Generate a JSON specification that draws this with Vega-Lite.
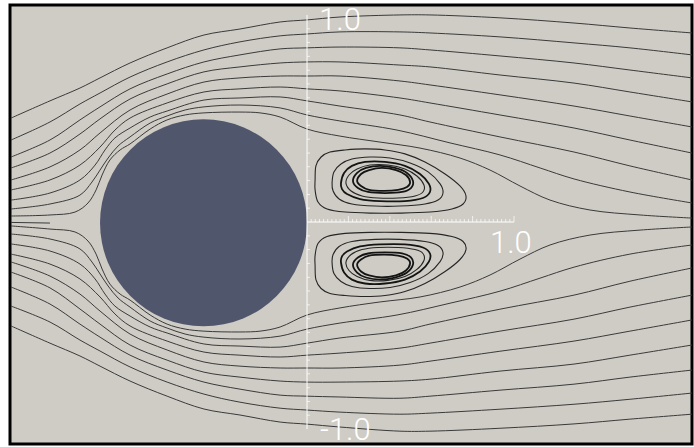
{
  "$schema": "https://vega.github.io/schema/vega-lite/v6.json",
  "width": 682,
  "height": 439,
  "autosize": "none",
  "padding": {"left": 10, "top": 5, "right": 2, "bottom": 3},
  "background": "#ffffff",
  "config": {"view": {"stroke": "#000000", "strokeWidth": 3, "fill": "#cfccc5"}},
  "datasets": {
    "streams": [
      {"s":"U1","x":-1.430,"y":0.502},{"s":"U1","x":-1.242,"y":0.585},{"s":"U1","x":-1.097,"y":0.647},{"s":"U1","x":-1.000,"y":0.696},{"s":"U1","x":-0.855,"y":0.768},{"s":"U1","x":-0.676,"y":0.841},{"s":"U1","x":-0.498,"y":0.903},{"s":"U1","x":-0.324,"y":0.932},{"s":"U1","x":-0.130,"y":0.966},{"s":"U1","x":0,"y":0.976},{"s":"U1","x":0.159,"y":0.990},{"s":"U1","x":0.449,"y":1.000},{"s":"U1","x":0.594,"y":1.000},{"s":"U1","x":0.932,"y":0.986},{"s":"U1","x":1.290,"y":0.961},{"s":"U1","x":1.560,"y":0.937},{"s":"U1","x":1.860,"y":0.913},
      {"s":"U2","x":-1.430,"y":0.396},{"s":"U2","x":-1.242,"y":0.483},{"s":"U2","x":-1.097,"y":0.570},{"s":"U2","x":-1.000,"y":0.623},{"s":"U2","x":-0.855,"y":0.700},{"s":"U2","x":-0.676,"y":0.773},{"s":"U2","x":-0.498,"y":0.831},{"s":"U2","x":-0.324,"y":0.870},{"s":"U2","x":-0.130,"y":0.899},{"s":"U2","x":0,"y":0.908},{"s":"U2","x":0.159,"y":0.918},{"s":"U2","x":0.449,"y":0.918},{"s":"U2","x":0.594,"y":0.913},{"s":"U2","x":0.932,"y":0.894},{"s":"U2","x":1.290,"y":0.865},{"s":"U2","x":1.560,"y":0.841},{"s":"U2","x":1.860,"y":0.807},
      {"s":"U3","x":-1.430,"y":0.314},{"s":"U3","x":-1.242,"y":0.396},{"s":"U3","x":-1.097,"y":0.493},{"s":"U3","x":-1.000,"y":0.556},{"s":"U3","x":-0.855,"y":0.643},{"s":"U3","x":-0.676,"y":0.715},{"s":"U3","x":-0.498,"y":0.773},{"s":"U3","x":-0.324,"y":0.807},{"s":"U3","x":-0.130,"y":0.836},{"s":"U3","x":0,"y":0.841},{"s":"U3","x":0.159,"y":0.845},{"s":"U3","x":0.449,"y":0.841},{"s":"U3","x":0.594,"y":0.831},{"s":"U3","x":0.932,"y":0.802},{"s":"U3","x":1.290,"y":0.768},{"s":"U3","x":1.560,"y":0.734},{"s":"U3","x":1.860,"y":0.696},
      {"s":"U4","x":-1.430,"y":0.261},{"s":"U4","x":-1.242,"y":0.333},{"s":"U4","x":-1.097,"y":0.425},{"s":"U4","x":-1.000,"y":0.498},{"s":"U4","x":-0.855,"y":0.594},{"s":"U4","x":-0.676,"y":0.667},{"s":"U4","x":-0.498,"y":0.725},{"s":"U4","x":-0.324,"y":0.749},{"s":"U4","x":-0.130,"y":0.768},{"s":"U4","x":0,"y":0.773},{"s":"U4","x":0.159,"y":0.773},{"s":"U4","x":0.449,"y":0.758},{"s":"U4","x":0.594,"y":0.749},{"s":"U4","x":0.932,"y":0.710},{"s":"U4","x":1.290,"y":0.671},{"s":"U4","x":1.560,"y":0.628},{"s":"U4","x":1.860,"y":0.580},
      {"s":"U5","x":-1.430,"y":0.203},{"s":"U5","x":-1.242,"y":0.266},{"s":"U5","x":-1.097,"y":0.348},{"s":"U5","x":-1.000,"y":0.430},{"s":"U5","x":-0.855,"y":0.541},{"s":"U5","x":-0.676,"y":0.618},{"s":"U5","x":-0.498,"y":0.676},{"s":"U5","x":-0.324,"y":0.696},{"s":"U5","x":-0.130,"y":0.705},{"s":"U5","x":0,"y":0.705},{"s":"U5","x":0.159,"y":0.705},{"s":"U5","x":0.449,"y":0.681},{"s":"U5","x":0.594,"y":0.662},{"s":"U5","x":0.932,"y":0.614},{"s":"U5","x":1.290,"y":0.560},{"s":"U5","x":1.560,"y":0.512},{"s":"U5","x":1.860,"y":0.459},
      {"s":"U6","x":-1.430,"y":0.155},{"s":"U6","x":-1.242,"y":0.203},{"s":"U6","x":-1.097,"y":0.275},{"s":"U6","x":-1.000,"y":0.362},{"s":"U6","x":-0.928,"y":0.444},{"s":"U6","x":-0.855,"y":0.502},{"s":"U6","x":-0.676,"y":0.575},{"s":"U6","x":-0.498,"y":0.628},{"s":"U6","x":-0.324,"y":0.643},{"s":"U6","x":-0.130,"y":0.652},{"s":"U6","x":0,"y":0.643},{"s":"U6","x":0.159,"y":0.633},{"s":"U6","x":0.449,"y":0.599},{"s":"U6","x":0.594,"y":0.575},{"s":"U6","x":0.932,"y":0.517},{"s":"U6","x":1.290,"y":0.454},{"s":"U6","x":1.560,"y":0.396},{"s":"U6","x":1.860,"y":0.333},
      {"s":"U7","x":-1.430,"y":0.106},{"s":"U7","x":-1.242,"y":0.140},{"s":"U7","x":-1.097,"y":0.203},{"s":"U7","x":-1.024,"y":0.275},{"s":"U7","x":-0.976,"y":0.348},{"s":"U7","x":-0.928,"y":0.406},{"s":"U7","x":-0.855,"y":0.454},{"s":"U7","x":-0.758,"y":0.507},{"s":"U7","x":-0.676,"y":0.536},{"s":"U7","x":-0.498,"y":0.589},{"s":"U7","x":-0.324,"y":0.599},{"s":"U7","x":-0.130,"y":0.604},{"s":"U7","x":0,"y":0.585},{"s":"U7","x":0.159,"y":0.560},{"s":"U7","x":0.449,"y":0.517},{"s":"U7","x":0.594,"y":0.483},{"s":"U7","x":0.932,"y":0.411},{"s":"U7","x":1.290,"y":0.338},{"s":"U7","x":1.560,"y":0.271},{"s":"U7","x":1.860,"y":0.203},
      {"s":"U8","x":-1.430,"y":0.063},{"s":"U8","x":-1.242,"y":0.087},{"s":"U8","x":-1.097,"y":0.130},{"s":"U8","x":-1.039,"y":0.193},{"s":"U8","x":-1.000,"y":0.251},{"s":"U8","x":-0.961,"y":0.309},{"s":"U8","x":-0.913,"y":0.367},{"s":"U8","x":-0.855,"y":0.411},{"s":"U8","x":-0.758,"y":0.478},{"s":"U8","x":-0.676,"y":0.512},{"s":"U8","x":-0.589,"y":0.541},{"s":"U8","x":-0.498,"y":0.556},{"s":"U8","x":-0.324,"y":0.565},{"s":"U8","x":-0.130,"y":0.551},{"s":"U8","x":0,"y":0.517},{"s":"U8","x":0.159,"y":0.488},{"s":"U8","x":0.435,"y":0.444},{"s":"U8","x":0.691,"y":0.382},{"s":"U8","x":0.932,"y":0.324},{"s":"U8","x":1.126,"y":0.261},{"s":"U8","x":1.290,"y":0.208},{"s":"U8","x":1.560,"y":0.145},{"s":"U8","x":1.860,"y":0.092},
      {"s":"U9","x":-1.430,"y":0.029},{"s":"U9","x":-1.242,"y":0.034},{"s":"U9","x":-1.121,"y":0.048},{"s":"U9","x":-1.058,"y":0.092},{"s":"U9","x":-1.019,"y":0.155},{"s":"U9","x":-0.990,"y":0.227},{"s":"U9","x":-0.952,"y":0.300},{"s":"U9","x":-0.903,"y":0.348},{"s":"U9","x":-0.855,"y":0.377},{"s":"U9","x":-0.758,"y":0.449},{"s":"U9","x":-0.676,"y":0.493},{"s":"U9","x":-0.589,"y":0.517},{"s":"U9","x":-0.498,"y":0.527},{"s":"U9","x":-0.324,"y":0.531},{"s":"U9","x":-0.227,"y":0.527},{"s":"U9","x":-0.130,"y":0.507},{"s":"U9","x":0,"y":0.449},{"s":"U9","x":0.159,"y":0.415},{"s":"U9","x":0.353,"y":0.386},{"s":"U9","x":0.546,"y":0.357},{"s":"U9","x":0.739,"y":0.309},{"s":"U9","x":0.884,"y":0.251},{"s":"U9","x":1.029,"y":0.174},{"s":"U9","x":1.174,"y":0.106},{"s":"U9","x":1.367,"y":0.058},{"s":"U9","x":1.609,"y":0.034},{"s":"U9","x":1.860,"y":0.019},
      {"s":"C","x":-1.430,"y":-0.002},{"s":"C","x":-1.242,"y":-0.005},
      {"s":"D9","x":-1.430,"y":-0.019},{"s":"D9","x":-1.242,"y":-0.034},{"s":"D9","x":-1.121,"y":-0.048},{"s":"D9","x":-1.058,"y":-0.092},{"s":"D9","x":-1.019,"y":-0.155},{"s":"D9","x":-0.990,"y":-0.227},{"s":"D9","x":-0.952,"y":-0.300},{"s":"D9","x":-0.903,"y":-0.348},{"s":"D9","x":-0.855,"y":-0.377},{"s":"D9","x":-0.758,"y":-0.449},{"s":"D9","x":-0.676,"y":-0.493},{"s":"D9","x":-0.589,"y":-0.517},{"s":"D9","x":-0.498,"y":-0.527},{"s":"D9","x":-0.324,"y":-0.531},{"s":"D9","x":-0.227,"y":-0.527},{"s":"D9","x":-0.130,"y":-0.507},{"s":"D9","x":0,"y":-0.449},{"s":"D9","x":0.159,"y":-0.415},{"s":"D9","x":0.353,"y":-0.386},{"s":"D9","x":0.546,"y":-0.362},{"s":"D9","x":0.739,"y":-0.314},{"s":"D9","x":0.884,"y":-0.256},{"s":"D9","x":1.029,"y":-0.179},{"s":"D9","x":1.174,"y":-0.111},{"s":"D9","x":1.367,"y":-0.063},{"s":"D9","x":1.609,"y":-0.039},{"s":"D9","x":1.860,"y":-0.024},
      {"s":"D8","x":-1.430,"y":-0.058},{"s":"D8","x":-1.242,"y":-0.082},{"s":"D8","x":-1.097,"y":-0.130},{"s":"D8","x":-1.039,"y":-0.193},{"s":"D8","x":-1.000,"y":-0.251},{"s":"D8","x":-0.961,"y":-0.309},{"s":"D8","x":-0.913,"y":-0.367},{"s":"D8","x":-0.855,"y":-0.411},{"s":"D8","x":-0.758,"y":-0.478},{"s":"D8","x":-0.676,"y":-0.512},{"s":"D8","x":-0.589,"y":-0.541},{"s":"D8","x":-0.498,"y":-0.556},{"s":"D8","x":-0.324,"y":-0.565},{"s":"D8","x":-0.130,"y":-0.551},{"s":"D8","x":0,"y":-0.517},{"s":"D8","x":0.159,"y":-0.488},{"s":"D8","x":0.435,"y":-0.449},{"s":"D8","x":0.691,"y":-0.392},{"s":"D8","x":0.932,"y":-0.334},{"s":"D8","x":1.126,"y":-0.271},{"s":"D8","x":1.290,"y":-0.218},{"s":"D8","x":1.560,"y":-0.155},{"s":"D8","x":1.860,"y":-0.111},
      {"s":"D7","x":-1.430,"y":-0.106},{"s":"D7","x":-1.242,"y":-0.140},{"s":"D7","x":-1.097,"y":-0.203},{"s":"D7","x":-1.024,"y":-0.275},{"s":"D7","x":-0.976,"y":-0.348},{"s":"D7","x":-0.928,"y":-0.406},{"s":"D7","x":-0.855,"y":-0.454},{"s":"D7","x":-0.758,"y":-0.507},{"s":"D7","x":-0.676,"y":-0.536},{"s":"D7","x":-0.498,"y":-0.589},{"s":"D7","x":-0.324,"y":-0.599},{"s":"D7","x":-0.130,"y":-0.604},{"s":"D7","x":0,"y":-0.585},{"s":"D7","x":0.159,"y":-0.560},{"s":"D7","x":0.449,"y":-0.527},{"s":"D7","x":0.594,"y":-0.493},{"s":"D7","x":0.932,"y":-0.421},{"s":"D7","x":1.290,"y":-0.353},{"s":"D7","x":1.560,"y":-0.286},{"s":"D7","x":1.860,"y":-0.222},
      {"s":"D6","x":-1.430,"y":-0.155},{"s":"D6","x":-1.242,"y":-0.203},{"s":"D6","x":-1.097,"y":-0.275},{"s":"D6","x":-1.000,"y":-0.362},{"s":"D6","x":-0.928,"y":-0.444},{"s":"D6","x":-0.855,"y":-0.502},{"s":"D6","x":-0.676,"y":-0.575},{"s":"D6","x":-0.498,"y":-0.628},{"s":"D6","x":-0.324,"y":-0.643},{"s":"D6","x":-0.130,"y":-0.652},{"s":"D6","x":0,"y":-0.643},{"s":"D6","x":0.159,"y":-0.633},{"s":"D6","x":0.449,"y":-0.609},{"s":"D6","x":0.594,"y":-0.585},{"s":"D6","x":0.932,"y":-0.527},{"s":"D6","x":1.290,"y":-0.469},{"s":"D6","x":1.560,"y":-0.411},{"s":"D6","x":1.860,"y":-0.353},
      {"s":"D5","x":-1.430,"y":-0.193},{"s":"D5","x":-1.242,"y":-0.261},{"s":"D5","x":-1.097,"y":-0.348},{"s":"D5","x":-1.000,"y":-0.430},{"s":"D5","x":-0.855,"y":-0.541},{"s":"D5","x":-0.676,"y":-0.618},{"s":"D5","x":-0.498,"y":-0.676},{"s":"D5","x":-0.324,"y":-0.696},{"s":"D5","x":-0.130,"y":-0.705},{"s":"D5","x":0,"y":-0.705},{"s":"D5","x":0.159,"y":-0.705},{"s":"D5","x":0.449,"y":-0.691},{"s":"D5","x":0.594,"y":-0.672},{"s":"D5","x":0.932,"y":-0.624},{"s":"D5","x":1.290,"y":-0.575},{"s":"D5","x":1.560,"y":-0.527},{"s":"D5","x":1.860,"y":-0.473},
      {"s":"D4","x":-1.430,"y":-0.242},{"s":"D4","x":-1.242,"y":-0.318},{"s":"D4","x":-1.097,"y":-0.420},{"s":"D4","x":-1.000,"y":-0.493},{"s":"D4","x":-0.855,"y":-0.594},{"s":"D4","x":-0.676,"y":-0.667},{"s":"D4","x":-0.498,"y":-0.725},{"s":"D4","x":-0.324,"y":-0.749},{"s":"D4","x":-0.130,"y":-0.768},{"s":"D4","x":0,"y":-0.773},{"s":"D4","x":0.159,"y":-0.773},{"s":"D4","x":0.449,"y":-0.768},{"s":"D4","x":0.594,"y":-0.759},{"s":"D4","x":0.932,"y":-0.720},{"s":"D4","x":1.290,"y":-0.686},{"s":"D4","x":1.560,"y":-0.643},{"s":"D4","x":1.860,"y":-0.594},
      {"s":"D3","x":-1.430,"y":-0.314},{"s":"D3","x":-1.242,"y":-0.396},{"s":"D3","x":-1.097,"y":-0.493},{"s":"D3","x":-1.000,"y":-0.556},{"s":"D3","x":-0.855,"y":-0.643},{"s":"D3","x":-0.676,"y":-0.715},{"s":"D3","x":-0.498,"y":-0.773},{"s":"D3","x":-0.324,"y":-0.807},{"s":"D3","x":-0.130,"y":-0.836},{"s":"D3","x":0,"y":-0.841},{"s":"D3","x":0.159,"y":-0.845},{"s":"D3","x":0.449,"y":-0.851},{"s":"D3","x":0.594,"y":-0.841},{"s":"D3","x":0.932,"y":-0.812},{"s":"D3","x":1.290,"y":-0.783},{"s":"D3","x":1.560,"y":-0.749},{"s":"D3","x":1.860,"y":-0.715},
      {"s":"D2","x":-1.430,"y":-0.406},{"s":"D2","x":-1.242,"y":-0.483},{"s":"D2","x":-1.097,"y":-0.570},{"s":"D2","x":-1.000,"y":-0.623},{"s":"D2","x":-0.855,"y":-0.700},{"s":"D2","x":-0.676,"y":-0.773},{"s":"D2","x":-0.498,"y":-0.831},{"s":"D2","x":-0.324,"y":-0.870},{"s":"D2","x":-0.130,"y":-0.899},{"s":"D2","x":0,"y":-0.908},{"s":"D2","x":0.159,"y":-0.918},{"s":"D2","x":0.449,"y":-0.928},{"s":"D2","x":0.594,"y":-0.923},{"s":"D2","x":0.932,"y":-0.904},{"s":"D2","x":1.290,"y":-0.880},{"s":"D2","x":1.560,"y":-0.856},{"s":"D2","x":1.860,"y":-0.826},
      {"s":"D1","x":-1.430,"y":-0.502},{"s":"D1","x":-1.242,"y":-0.585},{"s":"D1","x":-1.097,"y":-0.647},{"s":"D1","x":-1.000,"y":-0.696},{"s":"D1","x":-0.855,"y":-0.768},{"s":"D1","x":-0.676,"y":-0.841},{"s":"D1","x":-0.498,"y":-0.903},{"s":"D1","x":-0.324,"y":-0.932},{"s":"D1","x":-0.130,"y":-0.966},{"s":"D1","x":0,"y":-0.976},{"s":"D1","x":0.159,"y":-0.990},{"s":"D1","x":0.449,"y":-1.010},{"s":"D1","x":0.594,"y":-1.010},{"s":"D1","x":0.932,"y":-0.996},{"s":"D1","x":1.290,"y":-0.975},{"s":"D1","x":1.560,"y":-0.952},{"s":"D1","x":1.860,"y":-0.928}
    ],
    "loops": [
      {"s":"O1","x":0.039,"y":0.203},{"s":"O1","x":0.043,"y":0.271},{"s":"O1","x":0.068,"y":0.314},{"s":"O1","x":0.111,"y":0.338},{"s":"O1","x":0.184,"y":0.348},{"s":"O1","x":0.280,"y":0.353},{"s":"O1","x":0.377,"y":0.348},{"s":"O1","x":0.473,"y":0.329},{"s":"O1","x":0.570,"y":0.290},{"s":"O1","x":0.667,"y":0.232},{"s":"O1","x":0.739,"y":0.174},{"s":"O1","x":0.768,"y":0.126},{"s":"O1","x":0.754,"y":0.087},{"s":"O1","x":0.700,"y":0.063},{"s":"O1","x":0.594,"y":0.048},{"s":"O1","x":0.449,"y":0.043},{"s":"O1","x":0.304,"y":0.043},{"s":"O1","x":0.184,"y":0.048},{"s":"O1","x":0.097,"y":0.063},{"s":"O1","x":0.053,"y":0.097},{"s":"O1","x":0.039,"y":0.155},
      {"s":"O2","x":0.121,"y":0.188},{"s":"O2","x":0.130,"y":0.242},{"s":"O2","x":0.164,"y":0.280},{"s":"O2","x":0.217,"y":0.304},{"s":"O2","x":0.304,"y":0.314},{"s":"O2","x":0.401,"y":0.309},{"s":"O2","x":0.498,"y":0.285},{"s":"O2","x":0.585,"y":0.242},{"s":"O2","x":0.643,"y":0.184},{"s":"O2","x":0.657,"y":0.140},{"s":"O2","x":0.633,"y":0.106},{"s":"O2","x":0.570,"y":0.087},{"s":"O2","x":0.449,"y":0.077},{"s":"O2","x":0.329,"y":0.077},{"s":"O2","x":0.217,"y":0.087},{"s":"O2","x":0.155,"y":0.111},{"s":"O2","x":0.126,"y":0.150},
      {"s":"O4","x":0.188,"y":0.188},{"s":"O4","x":0.203,"y":0.227},{"s":"O4","x":0.242,"y":0.256},{"s":"O4","x":0.304,"y":0.275},{"s":"O4","x":0.391,"y":0.275},{"s":"O4","x":0.473,"y":0.256},{"s":"O4","x":0.531,"y":0.222},{"s":"O4","x":0.565,"y":0.179},{"s":"O4","x":0.560,"y":0.145},{"s":"O4","x":0.522,"y":0.126},{"s":"O4","x":0.440,"y":0.116},{"s":"O4","x":0.343,"y":0.116},{"s":"O4","x":0.266,"y":0.126},{"s":"O4","x":0.213,"y":0.150},
      {"s":"LO1","x":0.039,"y":-0.210},{"s":"LO1","x":0.043,"y":-0.278},{"s":"LO1","x":0.068,"y":-0.321},{"s":"LO1","x":0.111,"y":-0.345},{"s":"LO1","x":0.184,"y":-0.355},{"s":"LO1","x":0.280,"y":-0.360},{"s":"LO1","x":0.377,"y":-0.355},{"s":"LO1","x":0.473,"y":-0.336},{"s":"LO1","x":0.570,"y":-0.297},{"s":"LO1","x":0.667,"y":-0.239},{"s":"LO1","x":0.739,"y":-0.181},{"s":"LO1","x":0.768,"y":-0.133},{"s":"LO1","x":0.754,"y":-0.094},{"s":"LO1","x":0.700,"y":-0.070},{"s":"LO1","x":0.594,"y":-0.055},{"s":"LO1","x":0.449,"y":-0.050},{"s":"LO1","x":0.304,"y":-0.050},{"s":"LO1","x":0.184,"y":-0.055},{"s":"LO1","x":0.097,"y":-0.070},{"s":"LO1","x":0.053,"y":-0.104},{"s":"LO1","x":0.039,"y":-0.162},
      {"s":"LO2","x":0.121,"y":-0.195},{"s":"LO2","x":0.130,"y":-0.249},{"s":"LO2","x":0.164,"y":-0.287},{"s":"LO2","x":0.217,"y":-0.311},{"s":"LO2","x":0.304,"y":-0.321},{"s":"LO2","x":0.401,"y":-0.316},{"s":"LO2","x":0.498,"y":-0.292},{"s":"LO2","x":0.585,"y":-0.249},{"s":"LO2","x":0.643,"y":-0.191},{"s":"LO2","x":0.657,"y":-0.147},{"s":"LO2","x":0.633,"y":-0.113},{"s":"LO2","x":0.570,"y":-0.094},{"s":"LO2","x":0.449,"y":-0.084},{"s":"LO2","x":0.329,"y":-0.084},{"s":"LO2","x":0.217,"y":-0.094},{"s":"LO2","x":0.155,"y":-0.118},{"s":"LO2","x":0.126,"y":-0.157},
      {"s":"LO4","x":0.188,"y":-0.195},{"s":"LO4","x":0.203,"y":-0.234},{"s":"LO4","x":0.242,"y":-0.263},{"s":"LO4","x":0.304,"y":-0.282},{"s":"LO4","x":0.391,"y":-0.282},{"s":"LO4","x":0.473,"y":-0.263},{"s":"LO4","x":0.531,"y":-0.229},{"s":"LO4","x":0.565,"y":-0.186},{"s":"LO4","x":0.560,"y":-0.152},{"s":"LO4","x":0.522,"y":-0.133},{"s":"LO4","x":0.440,"y":-0.123},{"s":"LO4","x":0.343,"y":-0.123},{"s":"LO4","x":0.266,"y":-0.133},{"s":"LO4","x":0.213,"y":-0.157}
    ],
    "bold": [
      {"s":"O3","x":0.164,"y":0.188},{"s":"O3","x":0.179,"y":0.237},{"s":"O3","x":0.217,"y":0.271},{"s":"O3","x":0.280,"y":0.290},{"s":"O3","x":0.377,"y":0.290},{"s":"O3","x":0.473,"y":0.271},{"s":"O3","x":0.546,"y":0.232},{"s":"O3","x":0.589,"y":0.184},{"s":"O3","x":0.594,"y":0.145},{"s":"O3","x":0.560,"y":0.116},{"s":"O3","x":0.473,"y":0.101},{"s":"O3","x":0.353,"y":0.101},{"s":"O3","x":0.256,"y":0.111},{"s":"O3","x":0.193,"y":0.135},{"s":"O3","x":0.169,"y":0.159},
      {"s":"I1","x":0.222,"y":0.198},{"s":"I1","x":0.242,"y":0.237},{"s":"I1","x":0.285,"y":0.261},{"s":"I1","x":0.353,"y":0.271},{"s":"I1","x":0.425,"y":0.261},{"s":"I1","x":0.483,"y":0.237},{"s":"I1","x":0.512,"y":0.198},{"s":"I1","x":0.502,"y":0.164},{"s":"I1","x":0.459,"y":0.145},{"s":"I1","x":0.377,"y":0.140},{"s":"I1","x":0.295,"y":0.145},{"s":"I1","x":0.246,"y":0.164},
      {"s":"I2","x":0.242,"y":0.198},{"s":"I2","x":0.261,"y":0.232},{"s":"I2","x":0.300,"y":0.251},{"s":"I2","x":0.362,"y":0.261},{"s":"I2","x":0.430,"y":0.251},{"s":"I2","x":0.478,"y":0.227},{"s":"I2","x":0.498,"y":0.193},{"s":"I2","x":0.483,"y":0.169},{"s":"I2","x":0.440,"y":0.155},{"s":"I2","x":0.372,"y":0.150},{"s":"I2","x":0.300,"y":0.155},{"s":"I2","x":0.261,"y":0.174},
      {"s":"LO3","x":0.164,"y":-0.195},{"s":"LO3","x":0.179,"y":-0.244},{"s":"LO3","x":0.217,"y":-0.278},{"s":"LO3","x":0.280,"y":-0.297},{"s":"LO3","x":0.377,"y":-0.297},{"s":"LO3","x":0.473,"y":-0.278},{"s":"LO3","x":0.546,"y":-0.239},{"s":"LO3","x":0.589,"y":-0.191},{"s":"LO3","x":0.594,"y":-0.152},{"s":"LO3","x":0.560,"y":-0.123},{"s":"LO3","x":0.473,"y":-0.108},{"s":"LO3","x":0.353,"y":-0.108},{"s":"LO3","x":0.256,"y":-0.118},{"s":"LO3","x":0.193,"y":-0.142},{"s":"LO3","x":0.169,"y":-0.166},
      {"s":"LI1","x":0.222,"y":-0.205},{"s":"LI1","x":0.242,"y":-0.244},{"s":"LI1","x":0.285,"y":-0.268},{"s":"LI1","x":0.353,"y":-0.278},{"s":"LI1","x":0.425,"y":-0.268},{"s":"LI1","x":0.483,"y":-0.244},{"s":"LI1","x":0.512,"y":-0.205},{"s":"LI1","x":0.502,"y":-0.171},{"s":"LI1","x":0.459,"y":-0.152},{"s":"LI1","x":0.377,"y":-0.147},{"s":"LI1","x":0.295,"y":-0.152},{"s":"LI1","x":0.246,"y":-0.171},
      {"s":"LI2","x":0.242,"y":-0.205},{"s":"LI2","x":0.261,"y":-0.239},{"s":"LI2","x":0.300,"y":-0.258},{"s":"LI2","x":0.362,"y":-0.268},{"s":"LI2","x":0.430,"y":-0.258},{"s":"LI2","x":0.478,"y":-0.234},{"s":"LI2","x":0.498,"y":-0.200},{"s":"LI2","x":0.483,"y":-0.176},{"s":"LI2","x":0.440,"y":-0.162},{"s":"LI2","x":0.372,"y":-0.157},{"s":"LI2","x":0.300,"y":-0.162},{"s":"LI2","x":0.261,"y":-0.181}
    ],
    "hticks": [
      {"x":0.02},{"x":0.04},{"x":0.06},{"x":0.08},{"x":0.10},{"x":0.12},{"x":0.14},{"x":0.16},{"x":0.18},{"x":0.22},{"x":0.24},{"x":0.26},{"x":0.28},{"x":0.30},{"x":0.32},{"x":0.34},{"x":0.36},{"x":0.38},{"x":0.42},{"x":0.44},{"x":0.46},{"x":0.48},{"x":0.50},{"x":0.52},{"x":0.54},{"x":0.56},{"x":0.58},{"x":0.62},{"x":0.64},{"x":0.66},{"x":0.68},{"x":0.70},{"x":0.72},{"x":0.74},{"x":0.76},{"x":0.78},{"x":0.82},{"x":0.84},{"x":0.86},{"x":0.88},{"x":0.90},{"x":0.92},{"x":0.94},{"x":0.96},{"x":0.98}
    ],
    "hmajor": [{"x":0.2},{"x":0.4},{"x":0.6},{"x":0.8},{"x":1.0}],
    "vticks": [
      {"y":0.933},{"y":0.867},{"y":0.8},{"y":0.733},{"y":0.667},{"y":0.6},{"y":0.533},{"y":0.467},{"y":0.4},{"y":0.333},{"y":0.267},{"y":0.2},{"y":0.133},{"y":0.067},
      {"y":-0.067},{"y":-0.133},{"y":-0.2},{"y":-0.267},{"y":-0.333},{"y":-0.4},{"y":-0.467},{"y":-0.533},{"y":-0.6},{"y":-0.667},{"y":-0.733},{"y":-0.8},{"y":-0.867},{"y":-0.933}
    ]
  },
  "encoding": {
    "x": {"type": "quantitative", "scale": {"domain": [-1.435, 1.86], "nice": false, "zero": false}, "axis": null},
    "y": {"type": "quantitative", "scale": {"domain": [-1.072, 1.048], "nice": false, "zero": false}, "axis": null}
  },
  "layer": [
    {
      "data": {"values": [{"x": -0.5, "y": -0.004}]},
      "mark": {"type": "point", "shape": "circle", "filled": true, "size": 42849, "color": "#50566b", "opacity": 1, "strokeWidth": 0},
      "encoding": {"x": {"field": "x", "type": "quantitative"}, "y": {"field": "y", "type": "quantitative"}}
    },
    {
      "data": {"name": "streams"},
      "mark": {"type": "line", "interpolate": "catmull-rom", "color": "#3a3a3a", "strokeWidth": 1, "clip": true},
      "encoding": {"x": {"field": "x", "type": "quantitative"}, "y": {"field": "y", "type": "quantitative"}, "detail": {"field": "s"}, "order": {"value": null}}
    },
    {
      "data": {"name": "loops"},
      "mark": {"type": "line", "interpolate": "cardinal-closed", "color": "#262626", "strokeWidth": 1.1, "clip": true},
      "encoding": {"x": {"field": "x", "type": "quantitative"}, "y": {"field": "y", "type": "quantitative"}, "detail": {"field": "s"}, "order": {"value": null}}
    },
    {
      "data": {"name": "bold"},
      "mark": {"type": "line", "interpolate": "cardinal-closed", "color": "#141414", "strokeWidth": 1.8, "clip": true},
      "encoding": {"x": {"field": "x", "type": "quantitative"}, "y": {"field": "y", "type": "quantitative"}, "detail": {"field": "s"}, "order": {"value": null}}
    },
    {
      "data": {"values": [{"x": 0, "x2": 0, "y": -1, "y2": 1}, {"x": 0, "x2": 1, "y": 0, "y2": 0}]},
      "mark": {"type": "rule", "color": "#ffffff", "strokeWidth": 1},
      "encoding": {"x": {"field": "x", "type": "quantitative"}, "x2": {"field": "x2"}, "y": {"field": "y", "type": "quantitative"}, "y2": {"field": "y2"}}
    },
    {
      "data": {"name": "hticks"},
      "mark": {"type": "tick", "orient": "vertical", "color": "#ffffff", "size": 3, "thickness": 1, "yOffset": -1.5},
      "encoding": {"x": {"field": "x", "type": "quantitative"}, "y": {"datum": 0, "type": "quantitative"}}
    },
    {
      "data": {"name": "hmajor"},
      "mark": {"type": "tick", "orient": "vertical", "color": "#ffffff", "size": 6, "thickness": 1, "yOffset": -3},
      "encoding": {"x": {"field": "x", "type": "quantitative"}, "y": {"datum": 0, "type": "quantitative"}}
    },
    {
      "data": {"name": "vticks"},
      "mark": {"type": "tick", "orient": "horizontal", "color": "#ffffff", "size": 3, "thickness": 1, "xOffset": 1.5},
      "encoding": {"y": {"field": "y", "type": "quantitative"}, "x": {"datum": 0, "type": "quantitative"}}
    },
    {
      "data": {"values": [{"x": 0, "y": 1, "t": "1.0"}]},
      "mark": {"type": "text", "align": "left", "baseline": "alphabetic", "dx": 12, "dy": 15, "font": "Roboto", "fontWeight": 300, "fontSize": 31, "color": "#ffffff"},
      "encoding": {"x": {"field": "x", "type": "quantitative"}, "y": {"field": "y", "type": "quantitative"}, "text": {"field": "t"}}
    },
    {
      "data": {"values": [{"x": 0, "y": -1, "t": "-1.0"}]},
      "mark": {"type": "text", "align": "left", "baseline": "alphabetic", "dx": 13, "dy": 11, "font": "Roboto", "fontWeight": 300, "fontSize": 31, "color": "#ffffff"},
      "encoding": {"x": {"field": "x", "type": "quantitative"}, "y": {"field": "y", "type": "quantitative"}, "text": {"field": "t"}}
    },
    {
      "data": {"values": [{"x": 1, "y": 0, "t": "1.0"}]},
      "mark": {"type": "text", "align": "left", "baseline": "alphabetic", "dx": -24, "dy": 31, "font": "Roboto", "fontWeight": 300, "fontSize": 31, "color": "#ffffff"},
      "encoding": {"x": {"field": "x", "type": "quantitative"}, "y": {"field": "y", "type": "quantitative"}, "text": {"field": "t"}}
    }
  ]
}
